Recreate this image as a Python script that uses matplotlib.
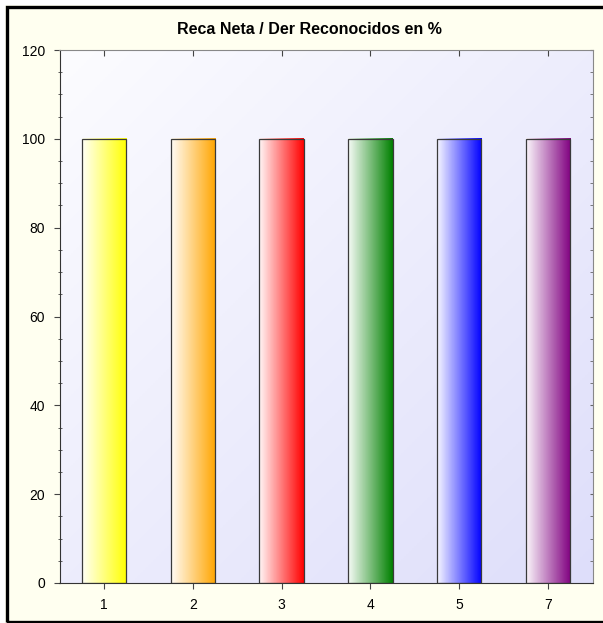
import numpy as np
import matplotlib
matplotlib.use('Agg')
import matplotlib.pyplot as plt
from matplotlib.patches import Rectangle
from matplotlib.colors import to_rgb

plt.rcParams['font.family'] = ['Liberation Sans', 'DejaVu Sans']

categories = ['1', '2', '3', '4', '5', '7']
values = [100, 100, 100, 100, 100, 100]
bar_colors = ['#FFFF00', '#FFA500', '#FF0000', '#008000', '#0000FF', '#800080']
yticks = [0, 20, 40, 60, 80, 100, 120]

fig = plt.figure(figsize=(6.03, 6.23), dpi=100)
fig.patch.set_facecolor('#FFFFF0')

# outer frame
frame = Rectangle((6.5 / 603, 1.5 / 623), 1.2, 1 - 8 / 623, transform=fig.transFigure,
                  facecolor='none', edgecolor='black', linewidth=2.4, zorder=10)
fig.patches.append(frame)
# white margin outside the frame
fig.patches.append(Rectangle((0, 0), 5 / 603, 1, transform=fig.transFigure,
                             facecolor='white', edgecolor='none', zorder=9))
fig.patches.append(Rectangle((0, 1 - 5 / 623), 1, 5 / 623, transform=fig.transFigure,
                             facecolor='white', edgecolor='none', zorder=9))

ax = fig.add_axes([59.5 / 603, 1 - 583 / 623, 533 / 603, 533 / 623])
ax.set_facecolor('none')

x = np.arange(len(categories))

# background gradient of the plot area (light top-left -> lavender bottom-right)
gx, gy = np.meshgrid(np.linspace(0, 1, 200), np.linspace(0, 1, 200))
t = (gx + gy) / 2
c0 = np.array([252, 252, 255]) / 255
c1 = np.array([222, 222, 250]) / 255
bg = c0[None, None, :] * (1 - t[..., None]) + c1[None, None, :] * t[..., None]
ax.imshow(bg, extent=[0, 1, 0, 1], transform=ax.transAxes, aspect='auto',
          origin='upper', zorder=0)

bars = ax.bar(x, values, width=0.5, color='none', edgecolor='#3a3a3a',
              linewidth=0.9, zorder=3)
for b, col in zip(bars, bar_colors):
    rgb = np.array(to_rgb(col))
    s = np.linspace(0, 1, 256)
    start = 0.97 * np.ones(3) + 0.03 * rgb
    grad = start[None, :] * (1 - s[:, None]) + rgb[None, :] * s[:, None]
    img = np.repeat(grad[None, :, :], 4, axis=0)
    ax.imshow(img,
              extent=[b.get_x(), b.get_x() + b.get_width(), 0, b.get_height()],
              aspect='auto', interpolation='nearest', zorder=2)
ax.set_xlim(-0.5, len(categories) - 0.5)
ax.set_ylim(0, 120)

ax.set_xticks(x)
ax.set_xticklabels(categories, fontsize=10)
ax.set_yticks(yticks)
ax.set_yticklabels([str(v) for v in yticks], fontsize=10)
ax.set_yticks(np.arange(0, 121, 5), minor=True)
ax.tick_params(axis='y', which='major', direction='out', length=4.5, pad=6,
               color='#444444')
ax.tick_params(axis='y', which='minor', direction='inout', length=3.5,
               color='#444444')
ax.tick_params(axis='x', which='major', direction='inout', length=8, pad=7,
               color='#444444')
ax.tick_params(axis='x', which='minor', bottom=False)

# inner ticks on the top and right edges
top = ax.secondary_xaxis('top')
top.set_xticks(x)
top.tick_params(direction='in', length=4, labeltop=False, color='#444444')
top.spines['top'].set_visible(False)
right = ax.secondary_yaxis('right')
right.set_yticks(yticks)
right.set_yticks(np.arange(0, 121, 5), minor=True)
right.tick_params(which='both', direction='in', length=2, labelright=False,
                  color='#666666')
right.spines['right'].set_visible(False)

for side in ['left', 'bottom']:
    ax.spines[side].set_color('#333333')
for side in ['right', 'top']:
    ax.spines[side].set_color('#888888')

fig.text(309 / 603, 1 - 29 / 623, 'Reca Neta / Der Reconocidos en %',
         ha='center', va='center', fontsize=11.5, fontweight='bold')

fig.savefig('out.png', dpi=100, facecolor=fig.get_facecolor())
